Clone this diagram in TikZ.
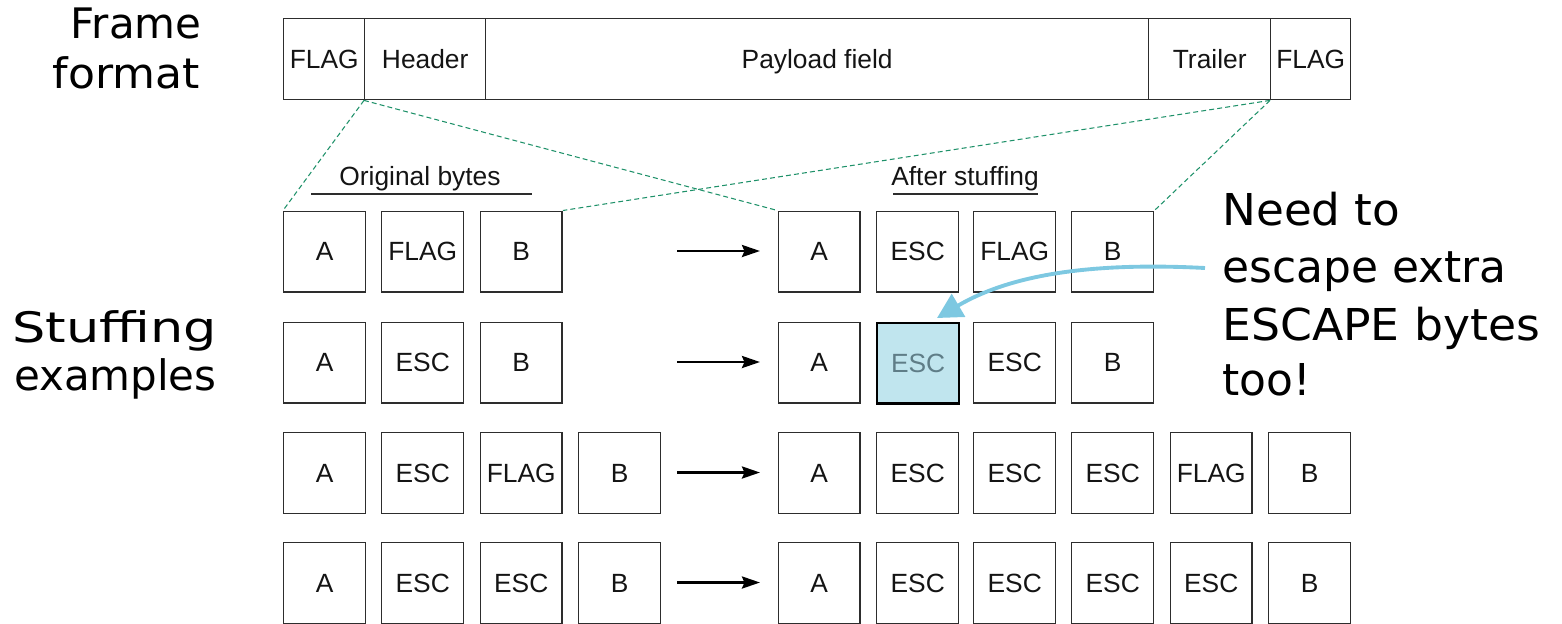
\documentclass[tikz,border=0pt]{standalone}
\usepackage{fontspec}
\usepackage{graphicx}
\setmainfont{Liberation Sans}
\newfontfamily\handfont{DejaVu Sans}
\usetikzlibrary{arrows.meta}
\definecolor{boxline}{RGB}{45,45,45}
\definecolor{guide}{RGB}{30,145,105}
\definecolor{callout}{RGB}{125,200,225}
\definecolor{hlfill}{RGB}{192,229,238}
\definecolor{hltext}{RGB}{95,125,135}
\definecolor{bytetext}{RGB}{20,20,20}
\begin{document}
\begin{tikzpicture}[x=0.02cm,y=-0.02cm,
  cell/.style={draw=boxline, line width=0.8pt, inner sep=0pt, anchor=north west,
    minimum height=1.62cm, text height=0.36cm, text depth=0pt, text=bytetext,
    font=\fontsize{15}{18}\selectfont},
  byte/.style={cell, minimum width=1.64cm},
  hlbyte/.style={byte, fill=hlfill, draw=black, line width=1.3pt, text=hltext},
  sub/.style={inner sep=0pt, anchor=base, text=bytetext, font=\fontsize{15}{18}\selectfont},
  rule/.style={draw=boxline, line width=0.7pt},
  guideline/.style={draw=guide, line width=0.6pt, dash pattern=on 2.8pt off 1.8pt},
  conv/.style={draw=black, line width=1.6pt, -{Stealth[length=0.36cm,width=0.24cm,inset=0.05cm]}},
  hand/.style={inner sep=0pt, font=\handfont\fontsize{23.9}{28}\selectfont},
  note/.style={inner sep=0pt, anchor=base west, font=\handfont\fontsize{25}{30}\selectfont},
  callarrow/.style={draw=callout, line width=2.2pt, -{Triangle[length=0.5cm,width=0.52cm]}}
]
\useasboundingbox (0,0) rectangle (1562,623);

% frame format
\node[cell, minimum width=1.62cm] (fl1) at (283,18) {FLAG};
\node[cell, minimum width=2.42cm] (hdr) at (364,18) {Header};
\node[cell, minimum width=13.26cm] (pay) at (485,18) {Payload field};
\node[cell, minimum width=2.44cm] (trl) at (1148,18) {Trailer};
\node[cell, minimum width=1.60cm] (fl2) at (1270,18) {FLAG};

% left labels
\node[hand, anchor=base east] (lfa) at (202,38) {Frame};
\node[hand, anchor=base east] (lfb) at (200,88) {\scalebox{1.05}[1]{format}};
\node[hand, anchor=base east] (lsa) at (217,342) {\scalebox{1.25}[1]{Stuffing}};
\node[hand, anchor=base east] (lsb) at (217,390) {examples};

% column headings
\node[sub] (orig) at (420,185) {Original bytes};
\node[sub] (after) at (965,185) {After stuffing};
\coordinate (ula) at (311,194);
\coordinate (ulb) at (532,194);
\coordinate (ulc) at (893,194);
\coordinate (uld) at (1038,194);
\draw[rule] (ula) -- (ulb);
\draw[rule] (ulc) -- (uld);

% row 1
\node[byte] (o11) at (283,210.5) {A};
\node[byte] (o12) at (381,210.5) {FLAG};
\node[byte] (o13) at (479.5,210.5) {B};
\node[byte] (s11) at (777.5,210.5) {A};
\node[byte] (s12) at (876,210.5) {ESC};
\node[byte] (s13) at (973,210.5) {FLAG};
\node[byte] (s14) at (1071,210.5) {B};

% row 2
\node[byte] (o21) at (283,321.5) {A};
\node[byte] (o22) at (381,321.5) {ESC};
\node[byte] (o23) at (479.5,321.5) {B};
\node[byte] (s21) at (777.5,321.5) {A};
\node[hlbyte] (s22) at (876,321.5) {ESC};
\node[byte] (s23) at (973,321.5) {ESC};
\node[byte] (s24) at (1071,321.5) {B};

% row 3
\node[byte] (o31) at (283,432) {A};
\node[byte] (o32) at (381,432) {ESC};
\node[byte] (o33) at (479.5,432) {FLAG};
\node[byte] (o34) at (578,432) {B};
\node[byte] (s31) at (777.5,432) {A};
\node[byte] (s32) at (876,432) {ESC};
\node[byte] (s33) at (973,432) {ESC};
\node[byte] (s34) at (1071,432) {ESC};
\node[byte] (s35) at (1169.5,432) {FLAG};
\node[byte] (s36) at (1268,432) {B};

% row 4
\node[byte] (o41) at (283,542) {A};
\node[byte] (o42) at (381,542) {ESC};
\node[byte] (o43) at (479.5,542) {ESC};
\node[byte] (o44) at (578,542) {B};
\node[byte] (s41) at (777.5,542) {A};
\node[byte] (s42) at (876,542) {ESC};
\node[byte] (s43) at (973,542) {ESC};
\node[byte] (s44) at (1071,542) {ESC};
\node[byte] (s45) at (1169.5,542) {ESC};
\node[byte] (s46) at (1268,542) {B};

% conversion arrows
\coordinate (a1s) at (677,251);   \coordinate (a1e) at (760,251);
\coordinate (a2s) at (677,362);   \coordinate (a2e) at (760,362);
\coordinate (a3s) at (677,472.5); \coordinate (a3e) at (760,472.5);
\coordinate (a4s) at (677,582.5); \coordinate (a4e) at (760,582.5);
\draw[conv] (a1s) -- (a1e);
\draw[conv] (a2s) -- (a2e);
\draw[conv] (a3s) -- (a3e);
\draw[conv] (a4s) -- (a4e);

% dashed guide lines
\draw[guideline] (hdr.south west) -- (o11.north west);
\draw[guideline] (hdr.south west) -- (s11.north west);
\draw[guideline] (fl2.south west) -- (o13.north east);
\draw[guideline] (fl2.south west) -- (s14.north east);

% note
\node[note] (n1) at (1222,225) {\scalebox{1.03}[1]{Need to}};
\node[note] (n2) at (1222,282) {escape extra};
\node[note] (n3) at (1222,340) {\scalebox{1.04}[1]{ESCAPE bytes}};
\node[note] (n4) at (1222,395) {too!};

\coordinate (callstart) at (1205,268);
\coordinate (calltip) at (937,318);
\draw[callarrow] (callstart) .. controls (1090,262) and (1010,275) .. (calltip);
\end{tikzpicture}
\end{document}
